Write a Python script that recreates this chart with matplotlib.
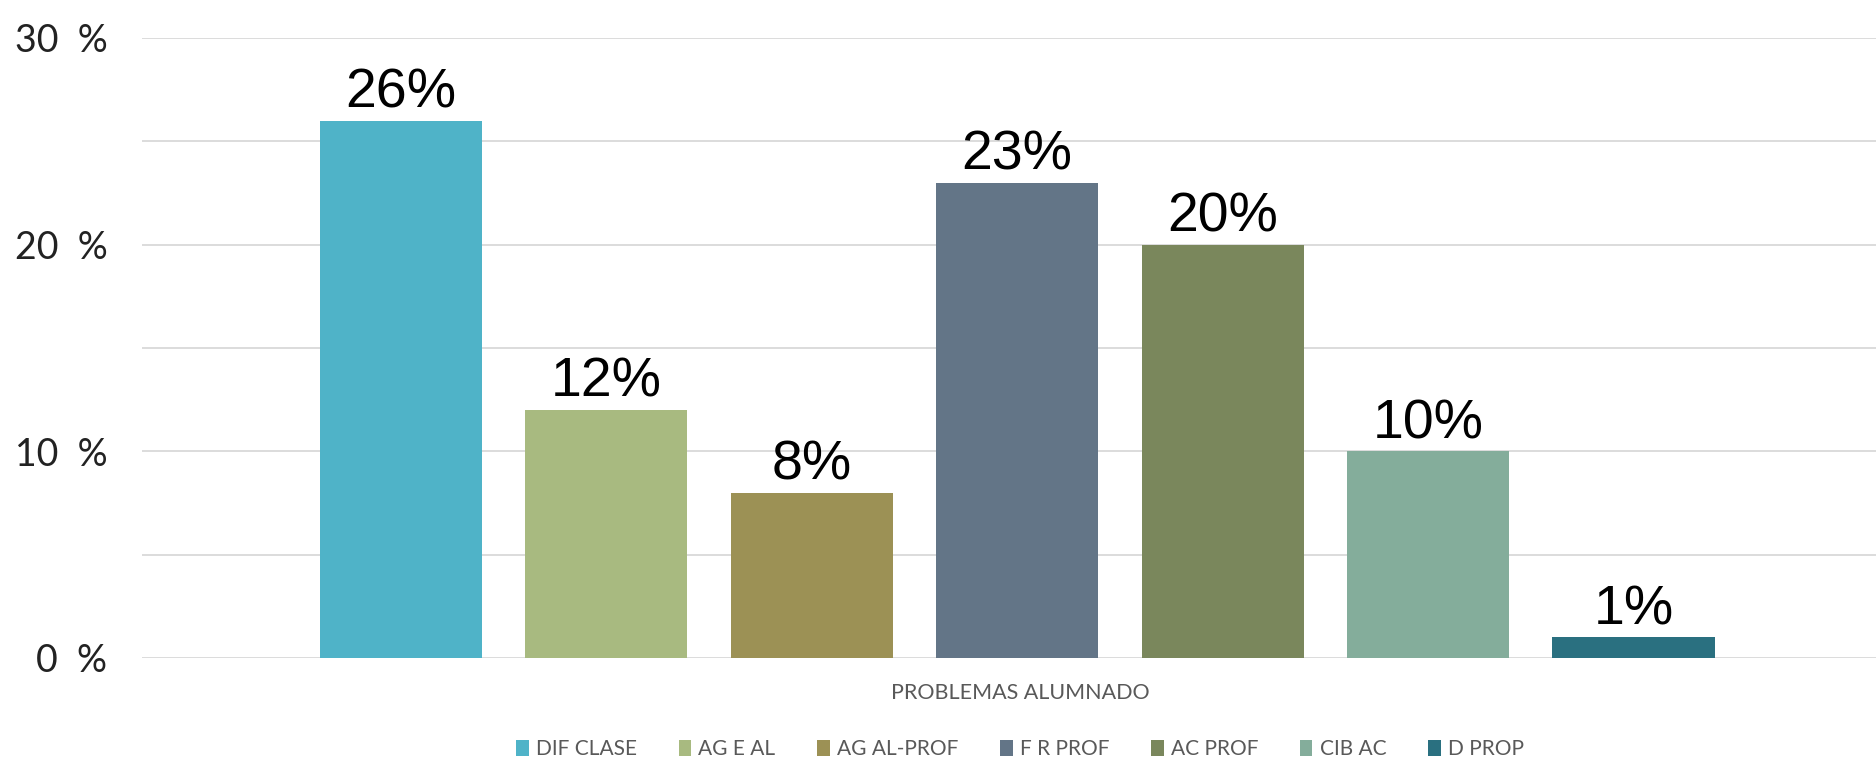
import matplotlib
matplotlib.use("Agg")
import matplotlib.pyplot as plt
from matplotlib.patches import Patch

categories = ["DIF CLASE", "AG E AL", "AG AL-PROF", "F R PROF", "AC PROF", "CIB AC", "D PROP"]
values = [26, 12, 8, 23, 20, 10, 1]
colors = ["#4FB3C8", "#A8BA80", "#9C9155", "#637587", "#7A875C", "#84AD9B", "#2A7080"]
ytick_labels = ["0  %", "", "10  %", "", "20  %", "", "30  %"]
xlabel = "PROBLEMAS ALUMNADO"

W, H = 1876, 760
fig = plt.figure(figsize=(W / 100, H / 100), dpi=100)
ax = fig.add_axes([142 / W, 1 - 658 / H, (W - 142) / W, (658 - 38) / H])

x = list(range(len(values)))
ax.bar(x, values, width=0.79, color=colors, zorder=3)
for xi, v in zip(x, values):
    ax.text(xi, v + 0.05, f"{v}%", ha="center", va="bottom", fontsize=40,
            family="Liberation Sans", color="black")

ax.set_ylim(0, 30)
ax.set_xlim(-1.26, 7.18)
ax.set_yticks([0, 5, 10, 15, 20, 25, 30])
ax.set_yticklabels(ytick_labels, fontsize=27, family="Lato", color="#222222")
ax.tick_params(axis="y", length=0, pad=25)
ax.set_xticks([])
ax.grid(axis="y", color="#D9D9D9", linewidth=1.3, zorder=0)
for s in ax.spines.values():
    s.set_visible(False)

fig.text(1020 / W, 1 - 693 / H, xlabel, ha="center", va="center", fontsize=15.5,
         family="Lato", color="#595959")

handles = [Patch(facecolor=c, edgecolor="none") for c in colors]
fig.legend(handles, categories, loc="center", bbox_to_anchor=(1020 / W, 1 - 749 / H), ncol=7,
           frameon=False, prop={"family": "Lato", "size": 15}, labelcolor="#595959",
           handlelength=0.6, handleheight=0.8, handletextpad=0.35, columnspacing=2.0)

fig.savefig("out.png", dpi=100)
